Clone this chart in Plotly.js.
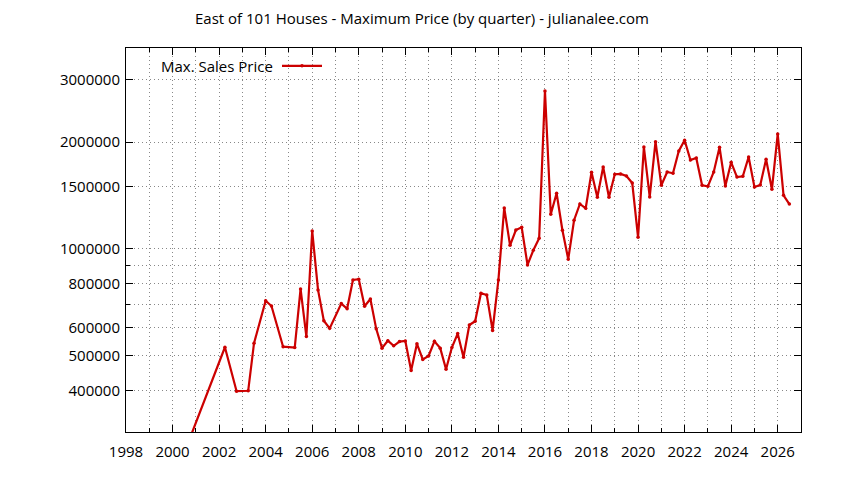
<!DOCTYPE html>
<html>
<head>
<meta charset="utf-8">
<script src="https://cdn.plot.ly/plotly-3.0.1.min.js"></script>
<style>
  html, body { margin: 0; padding: 0; background: #fff; }
  #chart { width: 844px; height: 480px; }
</style>
</head>
<body>
<div id="chart"></div>
<script>
"use strict"
// quarter (as decimal year) and the max sales price of that quarter
let quarters = [2000.75, 2002.25, 2002.75, 2003.25, 2003.5, 2004.0, 2004.25, 2004.75,
    2005.25, 2005.5, 2005.75, 2006.0, 2006.25, 2006.5, 2006.75, 2007.25, 2007.5, 2007.75,
    2008.0, 2008.25, 2008.5, 2008.75, 2009.0, 2009.25, 2009.5, 2009.75, 2010.0, 2010.25,
    2010.5, 2010.75, 2011.0, 2011.25, 2011.5, 2011.75, 2012.0, 2012.25, 2012.5, 2012.75,
    2013.0, 2013.25, 2013.5, 2013.75, 2014.0, 2014.25, 2014.5, 2014.75, 2015.0, 2015.25,
    2015.5, 2015.75, 2016.0, 2016.25, 2016.5, 2016.75, 2017.0, 2017.25, 2017.5, 2017.75,
    2018.0, 2018.25, 2018.5, 2018.75, 2019.0, 2019.25, 2019.5, 2019.75, 2020.0, 2020.25,
    2020.5, 2020.75, 2021.0, 2021.25, 2021.5, 2021.75, 2022.0, 2022.25, 2022.5, 2022.75,
    2023.0, 2023.25, 2023.5, 2023.75, 2024.0, 2024.25, 2024.5, 2024.75, 2025.0, 2025.25,
    2025.5, 2025.75, 2026.0, 2026.25, 2026.5];
let maxPrice = [294000, 529000, 398000, 399000, 543000, 715000, 691000, 531000,
    528000, 772000, 567000, 1124000, 767000, 628000, 598000, 702000, 679000, 818000,
    822000, 690000, 723000, 596000, 526000, 552000, 534000, 549000, 551000, 455000,
    541000, 489000, 500000, 550000, 526000, 459000, 528000, 578000, 496000, 611000,
    626000, 751000, 742000, 590000, 818000, 1305000, 1024000, 1131000, 1151000, 902000,
    992000, 1072000, 2783000, 1252000, 1435000, 1129000, 936000, 1205000, 1339000, 1302000,
    1644000, 1398000, 1701000, 1398000, 1623000, 1626000, 1605000, 1533000, 1079000, 1936000,
    1401000, 2004000, 1511000, 1647000, 1633000, 1887000, 2023000, 1780000, 1803000, 1511000,
    1501000, 1647000, 1933000, 1504000, 1754000, 1594000, 1602000, 1815000, 1494000, 1514000,
    1788000, 1472000, 2107000, 1416000, 1338000];

let yTicks = [400000, 500000, 600000, 800000, 1000000, 1500000, 2000000, 3000000];
let yMinorTicks = [300000, 700000, 900000];

let chart = document.getElementById('chart');
let fontName = 'Open Sans';
let fontSize = 15;
let gridDash = '1px,3px';

var trace1 = {
    x: quarters,
    y: maxPrice,
    name: ' ',
    type: 'scatter',
    mode: 'lines+markers',
    line: { color: 'rgb(204,0,0)', width: 2.2 },
    marker: { color: 'rgb(204,0,0)', size: 3.5 },
    hoverinfo: 'none'
};

var data = [trace1];

var layout = {
    width: 844,
    height: 480,
    margin: { l: 126, r: 43, t: 48, b: 48 },
    paper_bgcolor: '#fff',
    plot_bgcolor: '#fff',
    font: { family: fontName, size: fontSize, color: '#000' },
    title: {
        text: 'East of 101 Houses - Maximum Price (by quarter) - julianalee.com',
        font: { family: fontName, size: fontSize, color: '#000' },
        x: 0.5,
        xref: 'container',
        y: 0.96,
        yref: 'container',
        yanchor: 'middle'
    },
    showlegend: true,
    legend: {
        x: 0.2237, y: 0.953, xanchor: 'left', yanchor: 'middle',
        bgcolor: 'rgba(0,0,0,0)',
        itemwidth: 40,
        font: { family: fontName, size: fontSize }
    },
    annotations: [{
        text: 'Max. Sales Price',
        xref: 'paper', yref: 'paper',
        x: 0.22, y: 0.953, xanchor: 'right', yanchor: 'middle',
        showarrow: false,
        font: { family: fontName, size: fontSize, color: '#000' }
    }],
    xaxis: {
        range: [1998, 2027],
        tickmode: 'linear',
        tick0: 1998,
        dtick: 2,
        ticks: 'inside',
        ticklen: 7,
        tickcolor: '#000',
        showgrid: true,
        gridcolor: '#888',
        griddash: gridDash,
        gridwidth: 1,
        minor: {
            tick0: 1998, dtick: 1, ticks: 'inside', ticklen: 4, tickcolor: '#000',
            showgrid: true, gridcolor: '#888', griddash: gridDash, gridwidth: 1
        },
        showline: true,
        linecolor: '#000',
        linewidth: 1,
        mirror: 'ticks',
        zeroline: false,
        ticklabelstandoff: 6,
        tickfont: { family: fontName, size: fontSize, color: '#000' }
    },
    yaxis: {
        type: 'log',
        range: [Math.log10(305500), Math.log10(3678000)],
        tickmode: 'array',
        tickvals: yTicks,
        ticktext: yTicks.map(String),
        ticks: 'inside',
        ticklen: 7,
        tickcolor: '#000',
        showgrid: true,
        gridcolor: '#888',
        griddash: gridDash,
        gridwidth: 1,
        minor: {
            tickmode: 'array', tickvals: yMinorTicks, ticks: 'inside', ticklen: 4, tickcolor: '#000',
            showgrid: true, gridcolor: '#888', griddash: gridDash, gridwidth: 1
        },
        showline: true,
        linecolor: '#000',
        linewidth: 1,
        mirror: 'ticks',
        zeroline: false,
        ticklabelstandoff: 2,
        tickfont: { family: fontName, size: fontSize, color: '#000' }
    }
};

Plotly.newPlot(chart, data, layout, { staticPlot: true });
</script>
</body>
</html>
